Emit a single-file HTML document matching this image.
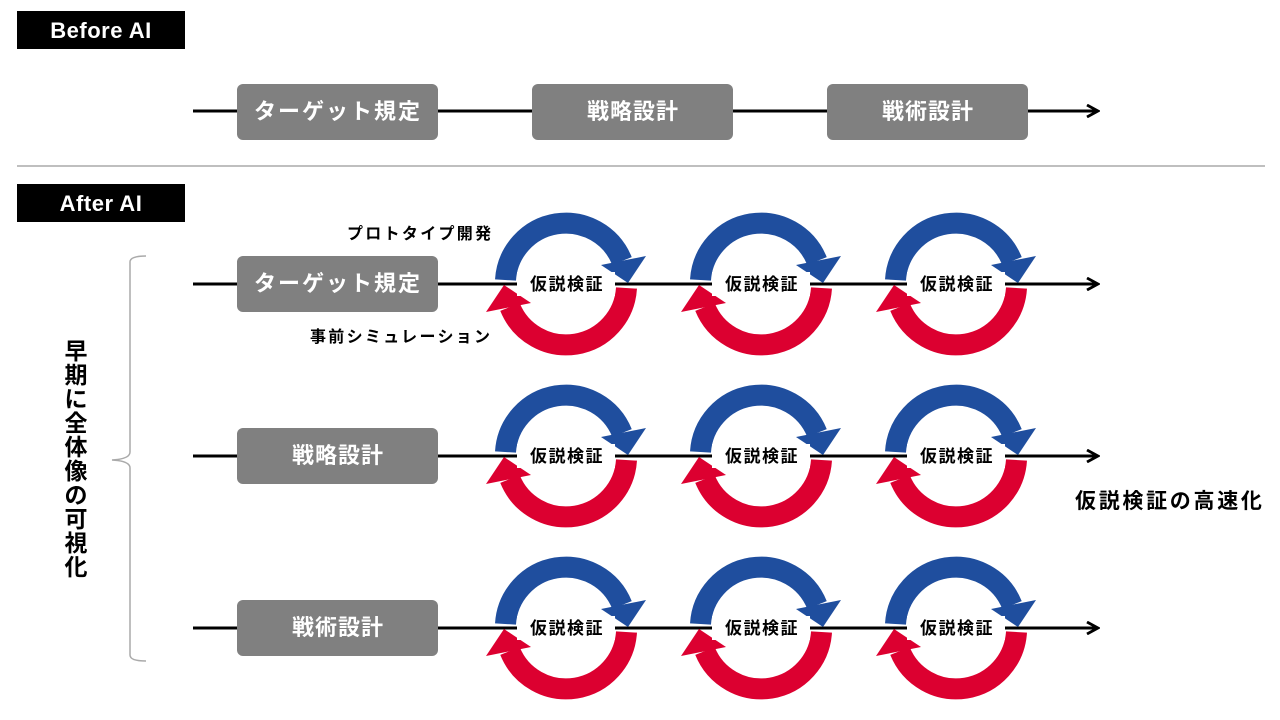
<!DOCTYPE html>
<html><head><meta charset="utf-8"><style>
html,body{margin:0;padding:0;background:#fff;}
svg{display:block;}
text{font-family:"Liberation Sans","Noto Sans CJK JP",sans-serif;font-weight:bold;}
</style></head><body>
<svg width="1280" height="720" viewBox="0 0 1280 720" xmlns="http://www.w3.org/2000/svg">
<defs>
<marker id="ah" markerWidth="14" markerHeight="14" refX="12" refY="7" orient="auto" markerUnits="userSpaceOnUse">
<path d="M1,1 L12,7 L1,13" fill="none" stroke="#000" stroke-width="2.8"/>
</marker>
<g id="cyc">
<path d="M -60.5 -4 A 60.5 60.5 0 0 1 56 -23" fill="none" stroke="#1f4e9e" stroke-width="21"/>
<polygon points="35,-19 80,-28 62,-1" fill="#1f4e9e"/>
<path d="M 60.5 4 A 60.5 60.5 0 0 1 -56 23" fill="none" stroke="#dc0030" stroke-width="21"/>
<polygon points="-35,19 -80,28 -62,1" fill="#dc0030"/>
<rect x="-49" y="-12" width="98" height="24" fill="#fff"/>
</g>
</defs>

<rect x="17" y="11" width="168" height="38" fill="#000"/>
<text x="101" y="38" fill="#fff" font-size="22" text-anchor="middle" letter-spacing="0.5">Before AI</text>
<rect x="17" y="184" width="168" height="38" fill="#000"/>
<text x="101" y="211" fill="#fff" font-size="22" text-anchor="middle" letter-spacing="0.5">After AI</text>
<line x1="17" y1="166" x2="1265" y2="166" stroke="#999" stroke-width="1.2"/>

<line x1="193" y1="111" x2="1098" y2="111" stroke="#000" stroke-width="3" marker-end="url(#ah)"/>
<rect x="237" y="84" width="201" height="56" rx="6" fill="#808080"/>
<text x="338" y="119" fill="#fff" font-size="22" text-anchor="middle" letter-spacing="2">ターゲット規定</text>
<rect x="532" y="84" width="201" height="56" rx="6" fill="#808080"/>
<text x="633" y="119" fill="#fff" font-size="22" text-anchor="middle" letter-spacing="1">戦略設計</text>
<rect x="827" y="84" width="201" height="56" rx="6" fill="#808080"/>
<text x="928" y="119" fill="#fff" font-size="22" text-anchor="middle" letter-spacing="1">戦術設計</text>

<line x1="193" y1="284" x2="1098" y2="284" stroke="#000" stroke-width="3" marker-end="url(#ah)"/>
<rect x="237" y="256" width="201" height="56" rx="6" fill="#808080"/>
<text x="338" y="291" fill="#fff" font-size="22" text-anchor="middle" letter-spacing="2">ターゲット規定</text>
<use href="#cyc" x="566" y="284"/><use href="#cyc" x="761" y="284"/><use href="#cyc" x="956" y="284"/>
<g font-size="17" text-anchor="middle" letter-spacing="1.5">
<text x="567" y="290">仮説検証</text>
<text x="762" y="290">仮説検証</text>
<text x="957" y="290">仮説検証</text>
</g>

<line x1="193" y1="456" x2="1098" y2="456" stroke="#000" stroke-width="3" marker-end="url(#ah)"/>
<rect x="237" y="428" width="201" height="56" rx="6" fill="#808080"/>
<text x="338" y="463" fill="#fff" font-size="22" text-anchor="middle" letter-spacing="1">戦略設計</text>
<use href="#cyc" x="566" y="456"/><use href="#cyc" x="761" y="456"/><use href="#cyc" x="956" y="456"/>
<g font-size="17" text-anchor="middle" letter-spacing="1.5">
<text x="567" y="462">仮説検証</text>
<text x="762" y="462">仮説検証</text>
<text x="957" y="462">仮説検証</text>
</g>

<line x1="193" y1="628" x2="1098" y2="628" stroke="#000" stroke-width="3" marker-end="url(#ah)"/>
<rect x="237" y="600" width="201" height="56" rx="6" fill="#808080"/>
<text x="338" y="635" fill="#fff" font-size="22" text-anchor="middle" letter-spacing="1">戦術設計</text>
<use href="#cyc" x="566" y="628"/><use href="#cyc" x="761" y="628"/><use href="#cyc" x="956" y="628"/>
<g font-size="17" text-anchor="middle" letter-spacing="1.5">
<text x="567" y="634">仮説検証</text>
<text x="762" y="634">仮説検証</text>
<text x="957" y="634">仮説検証</text>
</g>

<text x="347" y="239" font-size="16" letter-spacing="2.3">プロトタイプ開発</text>
<text x="310" y="342" font-size="16" letter-spacing="2.3">事前シミュレーション</text>
<text x="1075" y="508" font-size="21" letter-spacing="2.7">仮説検証の高速化</text>

<path d="M146 256 Q130 256 130 262 L130 452 Q130 459 112 460 Q130 461 130 468 L130 655 Q130 661 146 661" fill="none" stroke="#aaa" stroke-width="1.5"/>
<g font-size="23" text-anchor="middle">
<text x="76" y="359">早</text>
<text x="76" y="383">期</text>
<text x="76" y="407">に</text>
<text x="76" y="431">全</text>
<text x="76" y="455">体</text>
<text x="76" y="479">像</text>
<text x="76" y="503">の</text>
<text x="76" y="527">可</text>
<text x="76" y="551">視</text>
<text x="76" y="575">化</text>
</g>
</svg>
</body></html>
